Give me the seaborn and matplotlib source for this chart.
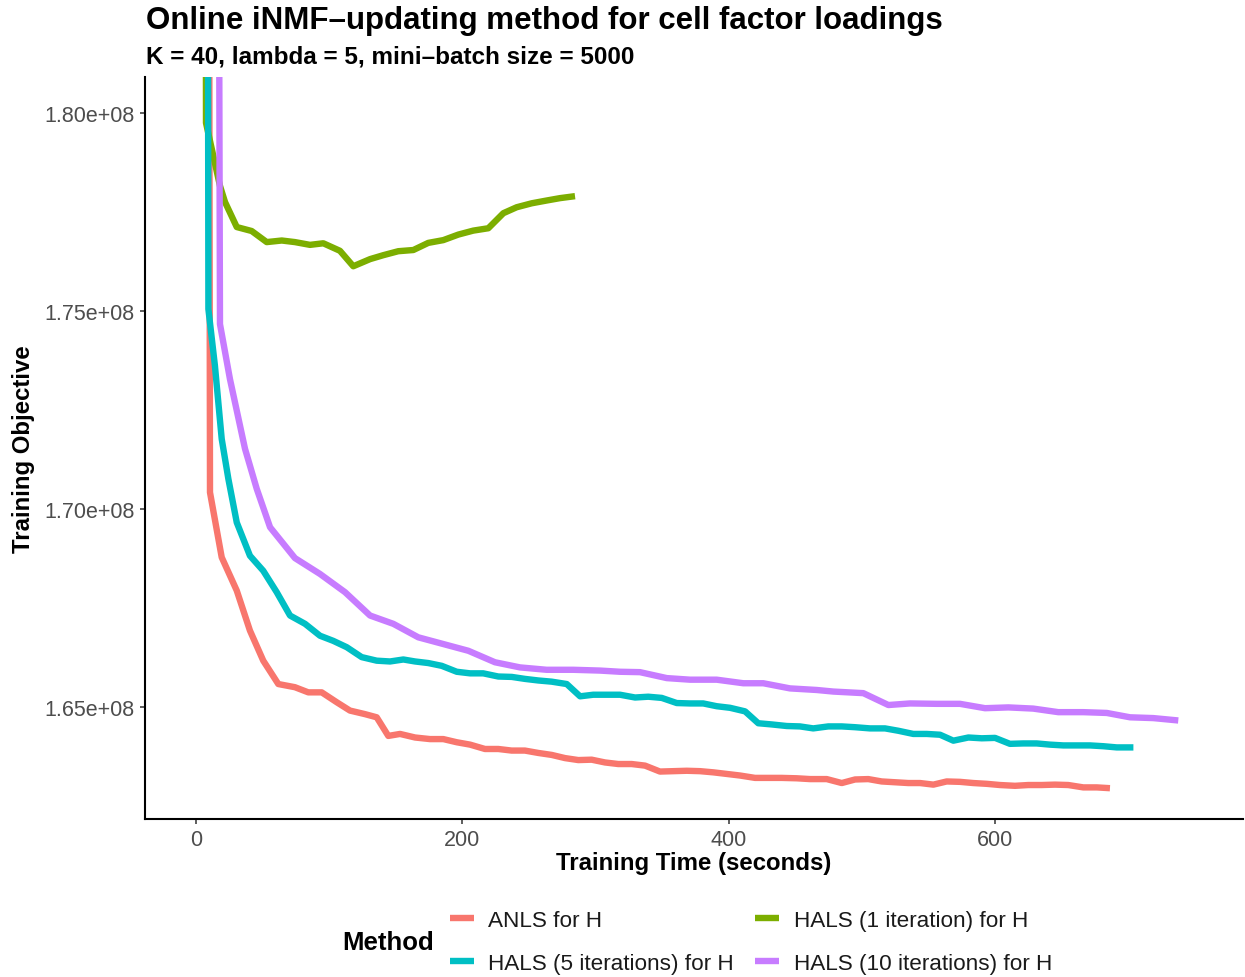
import matplotlib
matplotlib.use("Agg")
import matplotlib.pyplot as plt
from matplotlib.lines import Line2D
from matplotlib.ticker import FuncFormatter
import numpy as np
import pandas as pd
import seaborn as sns

# ---------------- data (objective values in units of 1e8) ----------------
methods = ["ANLS for H", "HALS (1 iteration) for H",
           "HALS (5 iterations) for H", "HALS (10 iterations) for H"]
colors = ["#F8766D", "#7CAE00", "#00BFC4", "#C77CFF"]

anls_time = [0, 10.5, 19.3, 30.6, 40.5, 50.5, 61.8, 74.3, 84.3, 94.4,
             105.7, 115.6, 126.9, 135.7, 144.4, 153.2, 164.5, 175.7, 185.7, 195.8,
             205.8, 217.0, 227.0, 237.0, 247.0, 257.0, 267.1, 277.1, 287.1, 297.1,
             307.1, 317.1, 327.2, 337.2, 348.4, 358.4, 368.5, 378.5, 388.5, 398.5,
             408.5, 419.8, 429.8, 439.8, 451.1, 461.1, 473.6, 484.9, 494.9, 504.8,
             514.9, 524.9, 534.9, 543.7, 553.7, 563.7, 573.7, 583.7, 593.8, 603.7,
             615.0, 625.0, 635.0, 645.0, 655.0, 666.3, 676.4, 686.3]
anls_obj = [4.0, 1.7042, 1.6878, 1.6794, 1.6693, 1.6617, 1.6558, 1.6550, 1.6537, 1.6537,
            1.6512, 1.6491, 1.6482, 1.6474, 1.6427, 1.6432, 1.6423, 1.6419, 1.6419, 1.6411,
            1.6405, 1.6394, 1.6394, 1.6390, 1.6390, 1.6384, 1.6379, 1.6371, 1.6366, 1.6367,
            1.6360, 1.6356, 1.6356, 1.6352, 1.6337, 1.6338, 1.6339, 1.6338, 1.6335, 1.6331,
            1.6327, 1.6321, 1.6321, 1.6321, 1.6320, 1.6318, 1.6318, 1.6308, 1.6317, 1.6318,
            1.6312, 1.6310, 1.6308, 1.6308, 1.6304, 1.6312, 1.6311, 1.6308, 1.6306, 1.6303,
            1.6301, 1.6303, 1.6303, 1.6304, 1.6303, 1.6297, 1.6297, 1.6295]

hals1_time = [0, 7.5, 18.0, 21.8, 30.6, 41.8, 53.1, 64.4, 74.3, 85.6,
              95.6, 108.1, 118.1, 130.7, 140.7, 151.9, 163.2, 174.4, 185.7, 197.0,
              208.2, 219.5, 230.8, 240.8, 252.1, 263.3, 273.3, 284.6]
hals1_obj = [4.0, 1.7975, 1.7816, 1.7775, 1.7712, 1.7702, 1.7674, 1.7678, 1.7674, 1.7667,
             1.7671, 1.7652, 1.7613, 1.7631, 1.7641, 1.7651, 1.7654, 1.7672, 1.7679, 1.7693,
             1.7703, 1.7709, 1.7747, 1.7762, 1.7772, 1.7779, 1.7785, 1.7790]

hals5_time = [0, 9.3, 14.2, 19.3, 24.3, 30.6, 40.5, 50.5, 60.6, 70.6,
              81.9, 93.1, 103.1, 113.2, 124.4, 135.7, 145.7, 155.7, 164.5, 174.4,
              184.5, 195.8, 205.8, 215.7, 227.0, 237.1, 247.0, 257.0, 267.1, 278.4,
              288.4, 298.3, 308.4, 318.4, 329.7, 339.6, 349.7, 361.0, 371.0, 380.9,
              391.0, 401.0, 412.3, 422.2, 432.3, 443.6, 453.5, 463.5, 474.8, 484.9,
              494.9, 506.1, 517.4, 527.4, 538.6, 548.7, 558.7, 568.7, 580.0, 590.0,
              600.0, 611.2, 621.2, 631.3, 641.3, 651.3, 661.3, 671.3, 681.3, 691.4,
              703.9]
hals5_obj = [4.0, 1.7505, 1.7362, 1.7177, 1.7076, 1.6966, 1.6882, 1.6844, 1.6790, 1.6731,
             1.6710, 1.6680, 1.6667, 1.6651, 1.6626, 1.6617, 1.6615, 1.6620, 1.6615, 1.6611,
             1.6604, 1.6589, 1.6585, 1.6585, 1.6577, 1.6576, 1.6571, 1.6567, 1.6564, 1.6558,
             1.6527, 1.6531, 1.6531, 1.6531, 1.6524, 1.6526, 1.6523, 1.6510, 1.6509, 1.6509,
             1.6502, 1.6498, 1.6489, 1.6459, 1.6456, 1.6452, 1.6451, 1.6446, 1.6451, 1.6451,
             1.6449, 1.6446, 1.6446, 1.6440, 1.6432, 1.6432, 1.6430, 1.6415, 1.6423, 1.6421,
             1.6422, 1.6407, 1.6408, 1.6408, 1.6405, 1.6403, 1.6403, 1.6403, 1.6401, 1.6398,
             1.6398]

hals10_time = [0, 18.0, 25.5, 36.8, 45.6, 55.6, 74.3, 93.1, 111.9, 130.7,
               148.2, 166.9, 185.7, 204.5, 224.5, 243.3, 263.3, 283.3, 303.4, 318.4,
               333.4, 353.5, 371.0, 391.0, 411.0, 426.0, 446.0, 466.1, 478.6, 501.1,
               519.9, 536.2, 556.2, 573.7, 592.5, 610.0, 628.7, 647.5, 666.3, 683.9,
               701.4, 718.9, 737.6]
hals10_obj = [4.0, 1.7467, 1.7328, 1.7152, 1.7051, 1.6954, 1.6876, 1.6836, 1.6790, 1.6731,
              1.6710, 1.6676, 1.6659, 1.6642, 1.6613, 1.6600, 1.6594, 1.6594, 1.6592, 1.6589,
              1.6588, 1.6573, 1.6569, 1.6569, 1.6560, 1.6560, 1.6547, 1.6543, 1.6539, 1.6535,
              1.6505, 1.6509, 1.6508, 1.6508, 1.6497, 1.6499, 1.6496, 1.6487, 1.6487, 1.6485,
              1.6474, 1.6472, 1.6466]

y_ticks = [1.65e8, 1.70e8, 1.75e8, 1.80e8]
x_ticks = [0, 200, 400, 600]

title = "Online iNMF\u2013updating method for cell factor loadings"
subtitle = "K = 40, lambda = 5, mini\u2013batch size = 5000"

# ---------------- build long table ----------------
series = [(anls_time, anls_obj), (hals1_time, hals1_obj),
          (hals5_time, hals5_obj), (hals10_time, hals10_obj)]
frames = []
for m, (t, o) in zip(methods, series):
    frames.append(pd.DataFrame({"time": t, "obj": np.array(o) * 1e8,
                                "method": m}))
df = pd.concat(frames, ignore_index=True)

# ---------------- style ----------------
sns.set_style("ticks")
plt.rcParams["font.family"] = ["Liberation Sans", "DejaVu Sans"]

W, H = 1245, 978
fig = plt.figure(figsize=(W / 100, H / 100), dpi=100)
L, R, T, B = 145, 1243, 78, 820
ax = fig.add_axes([L / W, 1 - B / H, (R - L) / W, (B - T) / H])

LW = 4.6
sns.lineplot(data=df, x="time", y="obj", hue="method", hue_order=methods,
             palette=colors, units="method", estimator=None, sort=False,
             linewidth=LW, legend=False, ax=ax)
for ln in ax.get_lines():
    ln.set_solid_capstyle("butt")
    ln.set_solid_joinstyle("round")

ax.set_xlim(-38.3, 786.2)
ax.set_ylim(1.62172e8, 1.80909e8)
ax.set_xticks(x_ticks)
ax.set_yticks(y_ticks)
ax.yaxis.set_major_formatter(FuncFormatter(lambda v, p: f"{v:.2e}"))

for s in ["top", "right"]:
    ax.spines[s].set_visible(False)
for s in ["left", "bottom"]:
    ax.spines[s].set_linewidth(1.5)
    ax.spines[s].set_color("black")

ax.tick_params(axis="both", which="major", labelsize=15.5, colors="#333333",
               labelcolor="#4D4D4D", length=3.6, width=1.1, pad=3.6)

ax.set_xlabel("Training Time (seconds)", fontsize=17.3, fontweight="bold", color="black")
ax.set_ylabel("Training Objective", fontsize=17.3, fontweight="bold", color="black")
ax.xaxis.set_label_coords(0.5, (B - 864) / (B - T))
ax.xaxis.label.set_va("center")
ax.yaxis.set_label_coords((24 - L) / (R - L), 0.5)
ax.yaxis.label.set_va("center")

fig.text(146 / W, 1 - 21 / H, title, fontsize=22.5, fontweight="bold",
         va="center", ha="left", color="black")
fig.text(146 / W, 1 - 57 / H, subtitle, fontsize=17.5, fontweight="bold",
         va="center", ha="left", color="black")

# legend (row-wise order like ggplot byrow)
handles = {m: Line2D([], [], color=c, linewidth=LW, solid_capstyle="butt")
           for m, c in zip(methods, colors)}
order = [methods[0], methods[2], methods[1], methods[3]]
leg = fig.legend([handles[m] for m in order], order, ncol=2, loc="center left",
                 bbox_to_anchor=(450 / W, 1 - 943 / H), frameon=False,
                 fontsize=16.2, handlelength=1.05, handletextpad=0.65,
                 columnspacing=0.95, labelspacing=0.95, borderpad=0,
                 borderaxespad=0)
for t in leg.get_texts():
    t.set_color("#1A1A1A")
fig.text(342 / W, 1 - 943 / H, "Method", fontsize=18.5, fontweight="bold",
         va="center", ha="left", color="black")

fig.savefig("out.png", dpi=100)
